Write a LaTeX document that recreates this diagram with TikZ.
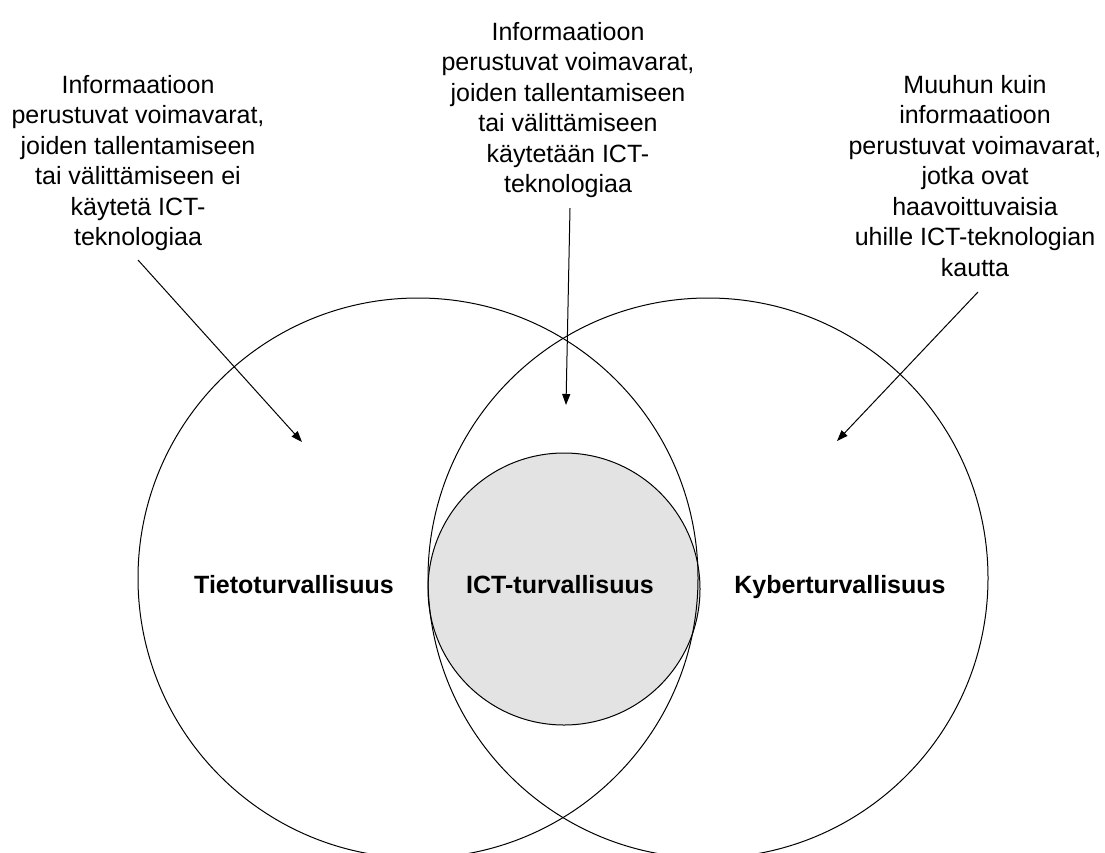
\documentclass[tikz,border=0pt]{standalone}
\usepackage{fontspec}
\setmainfont{Liberation Sans}
\usetikzlibrary{arrows.meta}

\begin{document}
\begin{tikzpicture}[x=1pt,y=-1pt,
  note/.style={align=center,anchor=north,inner sep=0pt,font=\fontsize{25}{30.5}\selectfont},
  area/.style={anchor=base,inner sep=0pt,font=\bfseries\fontsize{25}{30}\selectfont},
  pointer/.style={-{Triangle[length=11pt,width=8pt]},line width=1pt}]
 \useasboundingbox (0,0) rectangle (1105,852);
 \clip (0,0) rectangle (1105,852);
 % circles
 \fill[gray!22] (564,589) circle[radius=136pt]; % ICT area
 \draw[line width=1pt] (418,578) circle[radius=280pt];
 \draw[line width=1pt] (708,578) circle[radius=280pt];
 \draw[line width=1pt] (564,589) circle[radius=136pt];
 % names of the areas
 \node[area] (tieto) at (294,593) {Tietoturvallisuus};
 \node[area] (ict) at (560,593) {ICT-turvallisuus};
 \node[area] (kyber) at (840,593) {Kyberturvallisuus};
 % texts above
 \node[note] (tietotxt) at (138,75) {Informaatioon\\perustuvat voimavarat,\\joiden tallentamiseen\\tai välittämiseen ei\\käytetä ICT-\\teknologiaa};
 \node[note] (icttxt) at (568,22) {Informaatioon\\perustuvat voimavarat,\\joiden tallentamiseen\\tai välittämiseen\\käytetään ICT-\\teknologiaa};
 \node[note] (kybertxt) at (975,75) {Muuhun kuin\\informaatioon\\perustuvat voimavarat,\\jotka ovat\\haavoittuvaisia\\uhille ICT-teknologian\\kautta};
 % arrows
 \coordinate (tietofrom) at (138,260);
 \coordinate (tietoto) at (302,442);
 \coordinate (ictfrom) at (570,208);
 \coordinate (ictto) at (566,405);
 \coordinate (kyberfrom) at (978,292);
 \coordinate (kyberto) at (837,441);
 \draw[pointer] (tietofrom) -- (tietoto);
 \draw[pointer] (ictfrom) -- (ictto);
 \draw[pointer] (kyberfrom) -- (kyberto);
\end{tikzpicture}
\end{document}
